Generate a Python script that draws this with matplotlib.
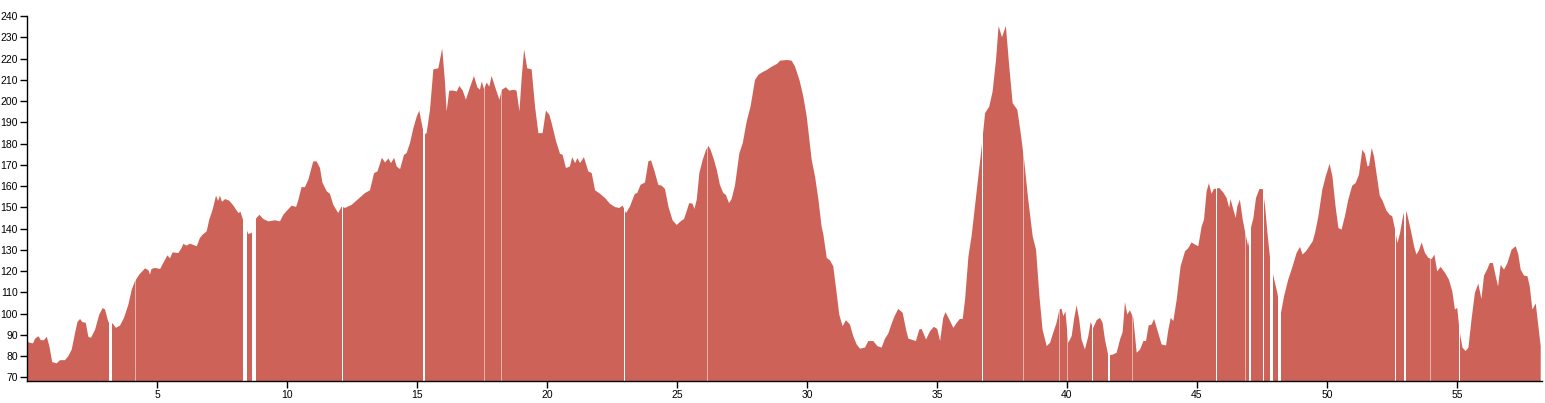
import numpy as np
import matplotlib.pyplot as plt

# distance along the route (km) and elevation (m)
km = [0.00, 0.10, 0.23, 0.31, 0.44, 0.53, 0.65, 0.76, 0.86, 0.97,
      1.14, 1.27, 1.46, 1.59, 1.72, 1.85, 1.94, 2.04, 2.13, 2.26,
      2.36, 2.46, 2.62, 2.78, 2.91, 3.00, 3.13, 3.29, 3.42, 3.58,
      3.73, 3.90, 4.03, 4.15, 4.32, 4.54, 4.67, 4.73, 4.79, 4.92,
      5.12, 5.24, 5.40, 5.50, 5.60, 5.82, 5.95, 6.01, 6.14, 6.27,
      6.53, 6.65, 6.76, 6.91, 7.01, 7.14, 7.27, 7.35, 7.42, 7.50,
      7.62, 7.78, 7.94, 8.13, 8.21, 8.35, 8.51, 8.64, 8.77, 8.94,
      9.09, 9.28, 9.54, 9.73, 9.86, 10.01, 10.18, 10.35, 10.44, 10.56,
      10.69, 10.82, 11.01, 11.14, 11.27, 11.36, 11.53, 11.65, 11.78, 11.97,
      12.10, 12.23, 12.49, 12.74, 13.00, 13.19, 13.35, 13.48, 13.65, 13.77,
      13.90, 14.00, 14.12, 14.22, 14.35, 14.50, 14.60, 14.73, 14.86, 14.99,
      15.09, 15.18, 15.27, 15.37, 15.50, 15.63, 15.82, 15.97, 16.08, 16.14,
      16.24, 16.40, 16.53, 16.63, 16.76, 16.88, 17.04, 17.19, 17.32, 17.42,
      17.49, 17.58, 17.68, 17.78, 17.87, 18.00, 18.17, 18.26, 18.42, 18.55,
      18.71, 18.83, 18.94, 19.03, 19.12, 19.24, 19.41, 19.54, 19.67, 19.83,
      19.96, 20.09, 20.18, 20.35, 20.50, 20.60, 20.73, 20.88, 20.97, 21.08,
      21.17, 21.27, 21.42, 21.59, 21.72, 21.85, 22.04, 22.23, 22.42, 22.62,
      22.78, 22.91, 23.04, 23.19, 23.38, 23.47, 23.60, 23.77, 23.90, 24.00,
      24.12, 24.28, 24.41, 24.54, 24.67, 24.83, 24.99, 25.14, 25.27, 25.37,
      25.47, 25.60, 25.67, 25.76, 25.86, 25.99, 26.12, 26.21, 26.29, 26.40,
      26.53, 26.65, 26.78, 26.88, 27.00, 27.10, 27.23, 27.40, 27.53, 27.68,
      27.83, 28.00, 28.13, 28.26, 28.45, 28.65, 28.85, 28.97, 29.22, 29.41,
      29.54, 29.71, 29.86, 29.99, 30.18, 30.31, 30.44, 30.56, 30.63, 30.76,
      30.88, 31.01, 31.14, 31.24, 31.37, 31.50, 31.65, 31.78, 31.91, 32.04,
      32.23, 32.36, 32.55, 32.71, 32.87, 33.00, 33.13, 33.26, 33.38, 33.51,
      33.68, 33.81, 33.90, 34.09, 34.19, 34.32, 34.41, 34.58, 34.73, 34.88,
      35.01, 35.12, 35.24, 35.33, 35.47, 35.63, 35.76, 35.88, 35.99, 36.08,
      36.21, 36.33, 36.46, 36.59, 36.72, 36.85, 37.01, 37.14, 37.27, 37.37,
      37.50, 37.65, 37.78, 37.91, 38.09, 38.22, 38.35, 38.51, 38.68, 38.81,
      38.94, 39.06, 39.22, 39.35, 39.47, 39.60, 39.71, 39.79, 39.86, 39.94,
      40.05, 40.18, 40.27, 40.37, 40.47, 40.56, 40.69, 40.82, 40.91, 41.01,
      41.14, 41.27, 41.37, 41.46, 41.59, 41.78, 41.91, 42.04, 42.14, 42.23,
      42.32, 42.42, 42.55, 42.68, 42.81, 42.94, 43.04, 43.14, 43.26, 43.35,
      43.47, 43.64, 43.81, 43.90, 43.99, 44.09, 44.22, 44.37, 44.54, 44.67,
      44.79, 44.92, 45.05, 45.18, 45.27, 45.37, 45.46, 45.56, 45.65, 45.86,
      46.01, 46.14, 46.24, 46.29, 46.40, 46.49, 46.55, 46.65, 46.76, 46.87,
      46.97, 47.06, 47.17, 47.27, 47.40, 47.53, 47.62, 47.71, 47.81, 47.94,
      48.09, 48.22, 48.35, 48.51, 48.68, 48.83, 48.96, 49.06, 49.19, 49.28,
      49.45, 49.54, 49.67, 49.82, 49.95, 50.10, 50.21, 50.33, 50.44, 50.56,
      50.69, 50.82, 50.97, 51.10, 51.23, 51.36, 51.46, 51.56, 51.62, 51.72,
      51.81, 51.94, 52.03, 52.15, 52.28, 52.41, 52.51, 52.62, 52.71, 52.81,
      52.90, 53.00, 53.09, 53.22, 53.35, 53.44, 53.54, 53.64, 53.77, 53.90,
      54.03, 54.13, 54.24, 54.37, 54.54, 54.69, 54.82, 54.92, 55.01, 55.10,
      55.21, 55.33, 55.44, 55.56, 55.69, 55.82, 55.94, 56.04, 56.17, 56.26,
      56.38, 56.49, 56.58, 56.68, 56.81, 56.94, 57.10, 57.26, 57.36, 57.45,
      57.58, 57.71, 57.80, 57.90, 58.03, 58.13, 58.22]
elevation = [87.1, 86.3, 86.0, 88.2, 89.4, 87.5, 87.5, 89.1, 84.7, 77.2,
             76.6, 78.1, 78.1, 80.0, 83.1, 91.0, 96.0, 97.5, 96.0, 95.7,
             89.1, 88.6, 92.5, 99.6, 102.6, 102.0, 96.0, 95.4, 93.3, 94.4,
             98.0, 104.3, 111.3, 115.2, 118.4, 121.3, 120.4, 118.4, 121.0, 121.5,
             121.0, 123.8, 127.4, 126.0, 128.8, 128.5, 130.9, 132.8, 132.0, 132.9,
             131.7, 135.6, 137.2, 138.7, 144.2, 148.9, 155.5, 153.0, 155.5, 152.6,
             153.9, 153.1, 150.8, 147.3, 147.9, 142.6, 137.5, 137.9, 144.2, 146.5,
             144.5, 143.4, 143.9, 143.4, 146.5, 148.6, 150.8, 150.2, 153.6, 159.5,
             159.5, 163.0, 171.6, 171.6, 168.5, 161.7, 157.5, 156.4, 151.2, 147.3,
             150.4, 149.7, 151.2, 153.9, 156.7, 158.0, 166.1, 166.9, 173.3, 171.1,
             173.0, 170.8, 173.3, 169.2, 168.0, 174.7, 175.5, 180.2, 187.2, 192.7,
             195.5, 189.6, 184.1, 184.9, 195.9, 214.9, 215.4, 224.8, 208.4, 195.1,
             204.9, 204.9, 204.5, 207.1, 204.9, 200.6, 206.5, 211.8, 206.5, 205.3,
             209.2, 205.6, 208.7, 206.8, 211.8, 206.8, 200.6, 205.3, 206.5, 204.9,
             205.3, 204.9, 195.1, 211.5, 224.3, 215.4, 214.9, 197.4, 184.9, 184.9,
             195.5, 193.5, 189.6, 181.0, 175.2, 174.7, 168.5, 169.2, 173.6, 170.8,
             173.2, 170.8, 173.6, 166.9, 166.1, 158.0, 156.4, 154.4, 151.7, 150.1,
             149.7, 150.8, 147.3, 150.4, 156.4, 156.7, 160.6, 161.7, 171.6, 172.1,
             167.7, 160.6, 160.2, 158.6, 150.4, 143.9, 141.7, 143.4, 144.5, 148.1,
             152.0, 151.7, 149.2, 153.6, 166.1, 172.4, 177.1, 178.9, 177.1, 173.2,
             167.7, 160.6, 156.7, 155.9, 152.0, 153.9, 160.2, 175.5, 180.2, 190.4,
             197.4, 209.9, 212.3, 213.4, 214.6, 216.2, 217.5, 219.0, 219.3, 219.0,
             216.2, 209.9, 202.1, 192.7, 172.4, 164.5, 153.6, 141.1, 137.2, 126.2,
             125.1, 122.3, 109.8, 99.6, 94.1, 96.9, 94.9, 89.4, 85.5, 83.5,
             84.0, 87.1, 87.1, 84.7, 84.0, 88.2, 90.7, 95.4, 99.1, 102.2,
             100.4, 92.5, 88.2, 87.5, 87.1, 92.5, 92.8, 87.8, 91.7, 93.8,
             92.8, 87.1, 98.0, 100.7, 97.3, 93.3, 95.7, 97.5, 97.5, 106.6,
             127.0, 136.4, 150.4, 164.5, 178.6, 194.3, 197.4, 204.5, 219.3, 235.3,
             230.0, 235.3, 216.2, 199.0, 195.9, 184.9, 172.4, 153.6, 136.4, 130.1,
             108.2, 92.5, 84.7, 86.3, 91.0, 95.7, 102.0, 102.3, 98.8, 101.1,
             86.3, 89.4, 97.3, 103.9, 97.3, 87.8, 83.1, 89.4, 96.0, 93.3,
             96.9, 98.0, 95.7, 87.8, 80.3, 80.8, 81.6, 87.8, 91.3, 105.4,
             99.6, 101.6, 98.0, 81.6, 83.1, 87.1, 87.1, 94.4, 94.9, 97.5,
             92.5, 85.5, 85.0, 92.5, 98.0, 96.5, 106.6, 122.3, 129.3, 130.9,
             133.5, 132.5, 131.7, 141.1, 144.2, 157.5, 161.4, 156.4, 158.6, 159.1,
             157.0, 154.4, 149.7, 153.9, 148.9, 145.0, 150.4, 153.6, 144.2, 137.2,
             131.7, 139.6, 145.0, 154.4, 158.6, 158.6, 150.4, 137.9, 126.2, 117.6,
             109.8, 99.6, 108.2, 116.0, 122.3, 128.5, 131.4, 127.8, 129.3, 130.9,
             134.0, 137.9, 145.8, 158.3, 164.5, 170.5, 164.5, 150.4, 140.3, 139.5,
             145.8, 153.6, 160.2, 161.4, 165.3, 177.1, 175.2, 169.2, 169.6, 177.9,
             173.9, 163.0, 155.5, 152.8, 148.6, 146.5, 145.8, 139.5, 133.2, 137.9,
             144.2, 149.7, 146.5, 139.5, 131.7, 127.8, 129.8, 133.5, 128.5, 126.2,
             125.7, 127.8, 119.9, 122.0, 119.2, 116.0, 110.5, 101.9, 102.7, 91.7,
             84.0, 82.4, 84.0, 97.3, 109.8, 114.1, 106.9, 117.9, 121.0, 123.8,
             123.8, 117.6, 112.8, 122.9, 120.7, 123.8, 130.1, 131.7, 127.8, 120.7,
             117.9, 117.6, 112.8, 101.9, 104.8, 94.1, 84.7]

# stretches without samples (km from, km to)
gaps = [(3.17, 3.26), (8.32, 8.46), (8.67, 8.81), (12.10, 12.16),
        (15.24, 15.29), (22.96, 23.01), (36.72, 36.76), (40.95, 41.01),
        (41.59, 41.65), (45.73, 45.77), (47.01, 47.06), (47.53, 47.57),
        (47.80, 47.92), (48.13, 48.24), (52.60, 52.67), (52.98, 53.03),
        (55.08, 55.11)]
thin_gaps = [4.15, 17.58, 18.23, 26.15, 38.30, 39.70, 40.01, 42.50,
             46.86, 53.96]

fill_color = '#cd6358'

fig = plt.figure(figsize=(15.45, 4.03), dpi=100)
ax = fig.add_axes([27/1545, 1 - 381/403, 1515/1545, 365/403])
ax.fill_between(km, elevation, 0, color=fill_color, lw=0)
for g0, g1 in gaps:
    ax.axvspan(g0, g1, color='white', lw=0)
for g in thin_gaps:
    ax.axvline(g, color='white', lw=0.6, alpha=0.6)

ax.set_xlim(0, 58.27)
ax.set_ylim(68.3, 240)
ax.set_xticks(np.arange(5, 56, 5))
ax.set_yticks(np.arange(70, 241, 10))
for lab in ax.get_xticklabels() + ax.get_yticklabels():
    lab.set_fontfamily('Liberation Sans')
    lab.set_fontsize(7.5)
ax.tick_params(length=5, width=1, colors='black', pad=1.5)
ax.spines['top'].set_visible(False)
ax.spines['right'].set_visible(False)
ax.spines['left'].set_linewidth(1)
ax.spines['bottom'].set_linewidth(1)
ax.spines['left'].set_bounds(70 - 1.7, 240)

fig.savefig('out.png', dpi=100)
